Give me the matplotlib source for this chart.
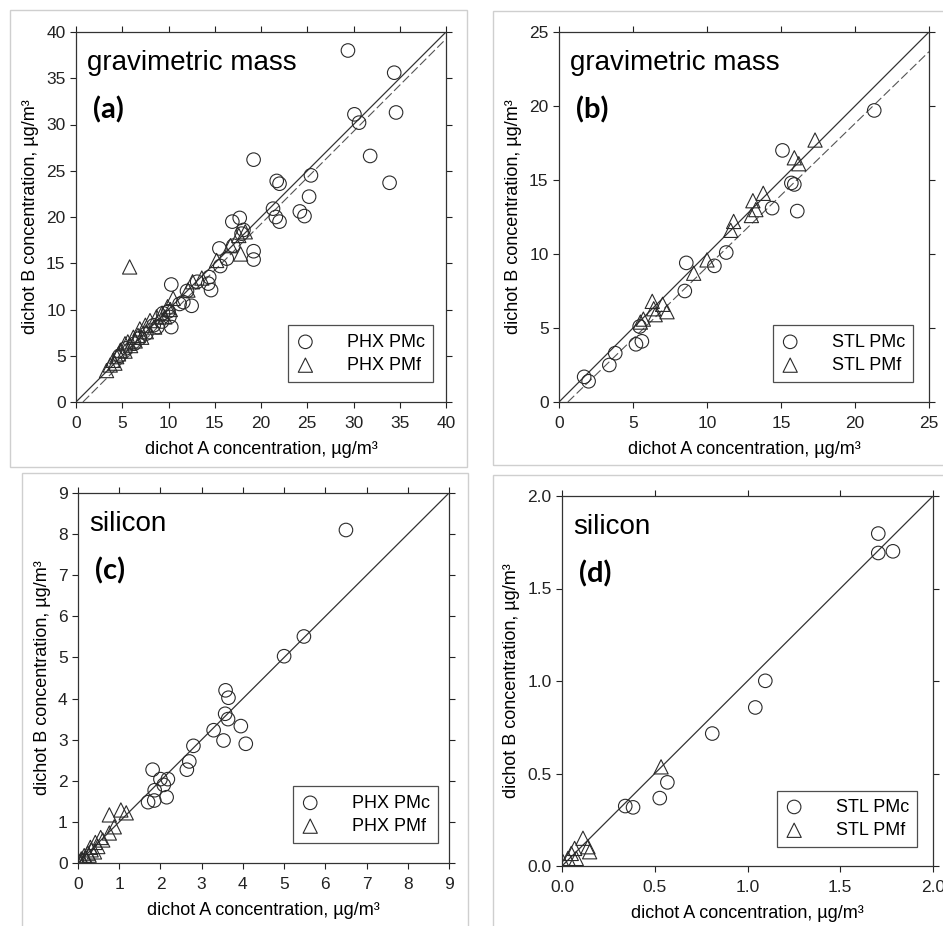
import matplotlib
matplotlib.use("Agg")
import matplotlib.pyplot as plt
from matplotlib.patches import Rectangle
import numpy as np

plt.rcParams['font.family'] = ['Liberation Sans', 'DejaVu Sans']

# ---- panel (a): PHX gravimetric mass ----
a_pmc_x = [29.4, 34.4, 30.1, 30.6, 34.6, 31.8, 33.9, 19.2, 21.7, 22.0, 25.4, 25.2, 24.2, 24.7,
           21.3, 21.6, 22.0, 16.9, 17.7, 18.1, 17.9, 19.2, 19.2, 17.0, 15.5, 15.6, 14.4, 14.3,
           14.6, 10.3, 12.5, 11.2, 11.6, 10.3, 10.0, 9.4, 10.1, 9.3, 8.4, 7.6, 6.9, 6.3, 5.4,
           4.7, 8.8, 12.0, 13.1, 16.3]
a_pmc_y = [38.0, 35.6, 31.1, 30.2, 31.3, 26.6, 23.7, 26.2, 23.9, 23.6, 24.5, 22.2, 20.6, 20.1,
           20.9, 20.0, 19.5, 19.5, 19.9, 18.6, 18.2, 16.3, 15.4, 16.9, 16.6, 14.7, 13.5, 12.8,
           12.1, 12.7, 10.4, 10.6, 10.8, 8.1, 9.8, 9.6, 9.2, 8.7, 8.3, 7.4, 6.9, 6.3, 5.8,
           5.0, 8.1, 12.0, 13.0, 15.5]
a_pmf_x = [5.8, 17.8, 18.3, 17.6, 16.7, 13.6, 12.6, 12.1, 10.5, 9.9, 9.3, 8.7, 8.0, 7.5, 6.9,
           6.7, 6.2, 5.6, 5.3, 4.8, 4.4, 4.0, 3.7, 3.3, 8.5, 7.6, 6.4, 5.3, 4.6, 9.6, 7.1, 5.9,
           4.2, 15.2, 10.2]
a_pmf_y = [14.6, 16.0, 18.4, 18.0, 16.9, 13.4, 13.0, 12.1, 11.2, 10.3, 9.6, 9.2, 8.8, 8.3, 7.9,
           7.2, 7.0, 6.5, 6.3, 5.6, 4.9, 4.5, 4.0, 3.4, 8.1, 7.6, 6.6, 5.5, 5.2, 9.2, 7.0, 6.1,
           4.2, 15.3, 10.0]
a_fit = [-0.75, 1.0]  # intercept, slope of dashed regression line

# ---- panel (b): STL gravimetric mass ----
b_pmc_x = [21.3, 15.1, 15.7, 15.9, 16.1, 14.4, 11.3, 10.5, 8.6, 8.5, 5.45, 5.2, 5.6, 3.8, 3.4, 1.7, 2.0]
b_pmc_y = [19.7, 17.0, 14.8, 14.7, 12.9, 13.1, 10.1, 9.2, 9.4, 7.5, 5.1, 3.9, 4.1, 3.3, 2.5, 1.7, 1.4]
b_pmf_x = [17.3, 15.9, 16.2, 13.8, 13.1, 13.3, 13.0, 11.8, 11.6, 10.0, 9.1, 6.3, 7.0, 7.3, 6.5, 5.7, 5.5, 6.4]
b_pmf_y = [17.7, 16.5, 16.1, 14.1, 13.6, 13.0, 12.6, 12.2, 11.6, 9.6, 8.7, 6.8, 6.6, 6.1, 5.9, 5.6, 5.4, 6.3]
b_fit = [-0.58, 0.97]

# ---- panel (c): PHX silicon ----
c_pmc_x = [6.5, 5.48, 5.0, 3.58, 3.65, 3.57, 3.64, 3.95, 3.29, 3.53, 4.07, 2.8, 2.7, 2.64,
           1.81, 2.0, 2.18, 2.08, 1.86, 2.15, 1.7, 1.85]
c_pmc_y = [8.1, 5.51, 5.03, 4.2, 4.02, 3.63, 3.5, 3.33, 3.23, 2.98, 2.9, 2.85, 2.47, 2.27,
           2.27, 2.04, 2.04, 1.9, 1.77, 1.6, 1.48, 1.52]
c_pmf_x = [0.76, 1.04, 1.17, 0.88, 0.76, 0.6, 0.48, 0.40, 0.27, 0.19, 0.11, 0.32, 0.24,
           0.55, 0.42, 0.3, 0.15, 0.08, 0.05]
c_pmf_y = [1.17, 1.29, 1.22, 0.88, 0.73, 0.56, 0.40, 0.27, 0.19, 0.12, 0.07, 0.32, 0.24,
           0.62, 0.5, 0.38, 0.18, 0.1, 0.04]

# ---- panel (d): STL silicon ----
d_pmc_x = [1.705, 1.705, 1.784, 1.096, 1.042, 0.81, 0.568, 0.527, 0.341, 0.383]
d_pmc_y = [1.797, 1.692, 1.701, 1.001, 0.857, 0.716, 0.452, 0.367, 0.324, 0.317]
d_pmf_x = [0.534, 0.113, 0.149, 0.14, 0.068, 0.05, 0.077, 0.032, 0.005]
d_pmf_y = [0.536, 0.15, 0.077, 0.104, 0.095, 0.068, 0.041, 0.041, 0.023]

fig = plt.figure(figsize=(9.43, 9.26), dpi=100)

# light grey frames around each sub-picture (pixel boxes: x0, y0, x1, y1 from top-left)
for x0, y0, x1, y1 in [(10, 10, 467, 467), (493, 11, 945, 465), (22, 473, 468, 930), (493, 475, 945, 930)]:
    fig.add_artist(Rectangle((x0 / 943, 1 - y1 / 926), (x1 - x0) / 943, (y1 - y0) / 926,
                             transform=fig.transFigure, fill=False, ec='#cfcfcf', lw=1.0))

panels = [
    # rect, lim, step, fmt, title, tag, pmc, pmf, fit, names, legend anchor
    ([76, 402, 370, 370], 40, 5, '%d', 'gravimetric mass', '(a)',
     (a_pmc_x, a_pmc_y), (a_pmf_x, a_pmf_y), a_fit, ('PHX PMc', 'PHX PMf'), (0.965, 0.054)),
    ([559, 402, 370, 370], 25, 5, '%d', 'gravimetric mass', '(b)',
     (b_pmc_x, b_pmc_y), (b_pmf_x, b_pmf_y), b_fit, ('STL PMc', 'STL PMf'), (0.957, 0.054)),
    ([78, 863, 371, 370], 9, 1, '%d', 'silicon', '(c)',
     (c_pmc_x, c_pmc_y), (c_pmf_x, c_pmf_y), None, ('PHX PMc', 'PHX PMf'), (0.97, 0.054)),
    ([562, 866, 371, 370], 2.0, 0.5, '%.1f', 'silicon', '(d)',
     (d_pmc_x, d_pmc_y), (d_pmf_x, d_pmf_y), None, ('STL PMc', 'STL PMf'), (0.957, 0.051)),
]

edge = '#2a2a2a'
for rect, lim, step, fmt, title, tag, pmc, pmf, fit, names, anchor in panels:
    left, bottom, w, h = rect
    ax = fig.add_axes([left / 943, 1 - bottom / 926, w / 943, h / 926])
    ax.set_xlim(0, lim)
    ax.set_ylim(0, lim)
    ticks = np.arange(0, lim + step / 2, step)
    ax.set_xticks(ticks)
    ax.set_yticks(ticks)
    ax.set_xticklabels([fmt % t for t in ticks])
    ax.set_yticklabels([fmt % t for t in ticks])
    ax.tick_params(direction='out', length=4, width=0.8, labelsize=12.5, colors='#222222',
                   top=True, right=True)
    ax.tick_params(axis='x', pad=6)
    for s in ax.spines.values():
        s.set_linewidth(0.9)
        s.set_color('#333333')

    ax.plot([0, lim], [0, lim], color='#333333', lw=0.9, zorder=2)
    if fit is not None:
        x0 = -fit[0] / fit[1]
        ax.plot([x0, lim], [0, fit[0] + fit[1] * lim], color='#555555', lw=0.8,
                dashes=(8, 3), zorder=2)

    ax.scatter(pmc[0], pmc[1], s=95, marker='o', facecolors='none', edgecolors=edge,
               linewidths=0.8, label=names[0], zorder=3)
    ax.scatter(pmf[0], pmf[1], s=105, marker='^', facecolors='none', edgecolors=edge,
               linewidths=0.8, label=names[1], zorder=3)

    ax.text(0.03, 0.915, title, transform=ax.transAxes, fontsize=20, va='center', ha='left')
    ax.text(0.045, 0.79, tag, transform=ax.transAxes, fontsize=21, fontweight='bold',
            family=['Lato', 'DejaVu Sans'], va='center', ha='left')

    ax.set_xlabel('dichot A concentration, µg/m³', fontsize=13, labelpad=7)
    ax.set_ylabel('dichot B concentration, µg/m³', fontsize=13, labelpad=5)

    leg = ax.legend(loc='lower right', bbox_to_anchor=anchor, fontsize=13, frameon=True,
                    fancybox=False, edgecolor='#222222', handletextpad=1.8, handlelength=1.0,
                    borderpad=0.45, labelspacing=0.35, borderaxespad=0)
    leg.get_frame().set_linewidth(0.9)

fig.savefig('out.png', dpi=100, facecolor='white')
